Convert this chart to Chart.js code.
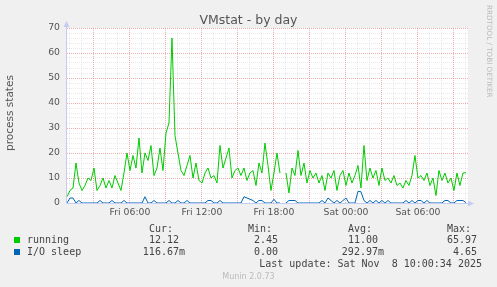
<!DOCTYPE html>
<html>
<head>
<meta charset="utf-8">
<script src="https://cdn.jsdelivr.net/npm/chart.js@4.4.1/dist/chart.umd.min.js"></script>
<style>
  html, body { margin: 0; padding: 0; background: #f0f0f0; }
  #wrap { position: relative; width: 497px; height: 287px; overflow: hidden; font-family: "DejaVu Sans", sans-serif; color: #555; }
  #graph { position: absolute; left: 0; top: 0; }
  .t { position: absolute; white-space: pre; }
  .mono { font-family: "DejaVu Sans Mono", monospace; font-size: 10px; line-height: 12px; color: #444; }
  .box { position: absolute; width: 6px; height: 6px; }
  #title { left: 0; width: 497px; top: 12px; text-align: center; font-size: 12.5px; line-height: 15px; color: #555; }
  #ytitle { left: -51px; top: 107px; width: 120px; text-align: center; font-size: 10.5px; line-height: 12px; color: #555; transform: rotate(-90deg); }
  #rrd { left: 485px; top: 5px; writing-mode: vertical-rl; font-size: 7.2px; line-height: 8px; color: #bbb; }
  #munin { left: 0; width: 497px; top: 272px; text-align: center; font-size: 8px; line-height: 10px; color: #bbb; }
</style>
</head>
<body>
<div id="wrap">
  <canvas id="graph" width="497" height="287"></canvas>
  <div class="t" id="title">VMstat - by day</div>
  <div class="t" id="ytitle">process states</div>
  <div class="t" id="rrd">RRDTOOL / TOBI OETIKER</div>

  <div class="t mono" style="right:324px;top:223px">Cur:</div>
  <div class="t mono" style="right:225px;top:223px">Min:</div>
  <div class="t mono" style="right:125px;top:223px">Avg:</div>
  <div class="t mono" style="right:26px;top:223px">Max:</div>

  <div class="box" style="left:14px;top:237px;background:#00cc00"></div>
  <div class="t mono" style="left:27px;top:234px">running</div>
  <div class="t mono" style="right:312px;top:234px">12.12 </div>
  <div class="t mono" style="right:213px;top:234px">2.45 </div>
  <div class="t mono" style="right:113px;top:234px">11.00 </div>
  <div class="t mono" style="right:14px;top:234px">65.97 </div>

  <div class="box" style="left:14px;top:249px;background:#0066b3"></div>
  <div class="t mono" style="left:27px;top:246px">I/O sleep</div>
  <div class="t mono" style="right:312px;top:246px">116.67m</div>
  <div class="t mono" style="right:213px;top:246px">0.00 </div>
  <div class="t mono" style="right:113px;top:246px">292.97m</div>
  <div class="t mono" style="right:14px;top:246px">4.65 </div>

  <div class="t mono" style="right:15px;top:258px">Last update: Sat Nov  8 10:00:34 2025</div>
  <div class="t" id="munin">Munin 2.0.73</div>
</div>
<script>
// time axis in hours since Fri 00:00, one sample every 15 min
const startHour = 0.75;
const stepHours = 0.25;
const endHour = 34.17;

const running = [
  2.5, 5, 6, 16, 8, 5, 7, 10, 9, 14,
  5, 7, 10, 6, 9, 6, 11, 8, 5, 12,
  20, 13, 19, 14, 26, 12, 20, 17, 23, 11,
  14, 22, 13, 28, 32, 65.97, 27, 20, 13, 11,
  15, 19, 10, 16, 9, 8, 12, 14, 10, 11,
  8, 23, 14, 18, 22, 10, 13, 14, 11, 14,
  9, 12, 13, 7, 16, 12, 24, 15, 5, 12,
  20, 12, null, 12, 4, 14, 11, 21, 11, 16,
  8, 13, 10, 12, 8, 11, 5, 12, 10, 13,
  5, 11, 13, 7, 12, 8, 11, 15, 6, 23,
  9, 14, 10, 13, 7, 14, 9, 10, 8, 11,
  7, 8, 6, 9, 7, 11, 19, 10, 11, 9,
  12, 7, 10, 3, 13, 9, 12, 8, 10, 5,
  12, 7, 12, 12.12
];

const ioSleep = [
  0, 2, 2, 0, 1, 0, 0, 0, 0, 0,
  0, 1, 0, 0, 0, 1, 0, 0, 0, 1,
  0, 0, 0, 0, 0, 0, 2.5, 0, 0, 1,
  0, 0, 0, 0, 1, 0, 0, 1, 0, 0,
  1, 0, 0, 0, 0, 0, 0, 1, 1, 0,
  0, 1, 0, 0, 0, 0, 0, 0, 0, 2.5,
  2, 1.5, 1, 0, 1, 1, 0, 0, 0, 1.5,
  0, 0, null, 0, 1, 1, 1, 0, 0, 0,
  0, 0, 0, 0, 0, 1, 0, 2, 1, 0,
  1, 0, 1, 2, 0, 0, 0, 4.65, 4.5, 1,
  0, 1, 0, 1, 0, 1, 0, 1, 0, 0,
  0, 0, 0, 1, 0, 1, 0, 1, 1, 0,
  1, 0, 0, 0, 0, 0, 1, 1, 0, 0,
  1, 1, 1, 0.12
];

const tickHours = [6, 12, 18, 24, 30];
const tickLabels = ['Fri 06:00', 'Fri 12:00', 'Fri 18:00', 'Sat 00:00', 'Sat 06:00'];

const MAJOR = 'rgba(230,110,110,0.55)';
const MINOR = 'rgba(170,170,170,0.25)';
const AXIS = '#c4ccf2';

function pontos(arr) {
  return arr.map((v, i) => ({ x: startHour + i * stepHours, y: v }));
}

const fundoPlugin = {
  id: 'fundo',
  beforeDraw(chart) {
    const { ctx, chartArea: a } = chart;
    ctx.save();
    ctx.fillStyle = '#ffffff';
    ctx.fillRect(a.left, a.top, a.right - a.left, a.bottom - a.top);
    ctx.restore();
  }
};

// axis lines with the little arrows, under the data
const eixosPlugin = {
  id: 'eixos',
  beforeDatasetsDraw(chart) {
    const { ctx, chartArea: a } = chart;
    const x0 = a.left - 0.5, y0 = a.bottom + 0.5;
    ctx.save();
    ctx.strokeStyle = AXIS;
    ctx.fillStyle = AXIS;
    ctx.lineWidth = 1;
    ctx.beginPath();
    ctx.moveTo(x0, y0);
    ctx.lineTo(x0, a.top - 4);
    ctx.moveTo(x0, y0);
    ctx.lineTo(a.right + 3, y0);
    ctx.stroke();
    ctx.beginPath();
    ctx.moveTo(x0, a.top - 7);
    ctx.lineTo(x0 - 3, a.top - 1);
    ctx.lineTo(x0 + 3, a.top - 1);
    ctx.closePath();
    ctx.fill();
    ctx.beginPath();
    ctx.moveTo(a.right + 6, y0);
    ctx.lineTo(a.right, y0 - 3);
    ctx.lineTo(a.right, y0 + 3);
    ctx.closePath();
    ctx.fill();
    ctx.restore();
  }
};

const fonteEixo = { family: 'DejaVu Sans', size: 9.3 };

new Chart(document.getElementById('graph'), {
  type: 'line',
  data: {
    datasets: [
      { label: 'running', data: pontos(running), borderColor: '#00cc00', borderWidth: 1, pointRadius: 0, tension: 0, spanGaps: false },
      { label: 'I/O sleep', data: pontos(ioSleep), borderColor: '#0066b3', borderWidth: 1, pointRadius: 0, tension: 0, spanGaps: false }
    ]
  },
  options: {
    responsive: false,
    animation: false,
    events: [],
    layout: { padding: { left: 0, top: 28, right: 29, bottom: 64 } },
    plugins: { legend: { display: false }, tooltip: { enabled: false }, title: { display: false } },
    scales: {
      x: {
        type: 'linear',
        min: startHour,
        max: endHour,
        afterBuildTicks: s => {
          s.ticks = [];
          for (let h = 1; h <= 34; h++) s.ticks.push({ value: h });
        },
        afterFit: s => { s.height = 20; },
        ticks: {
          autoSkip: false, maxRotation: 0, padding: 4, color: '#555', font: fonteEixo,
          callback: v => { const k = tickHours.indexOf(v); return k >= 0 ? tickLabels[k] : ''; }
        },
        grid: { drawTicks: false, lineWidth: 1, color: c => (c.tick && c.tick.value % 3 === 0) ? MAJOR : MINOR },
        border: { display: false, dash: [1, 1] }
      },
      y: {
        min: 0,
        max: 70,
        afterBuildTicks: s => {
          s.ticks = [];
          for (let v = 0; v <= 70; v += 2) s.ticks.push({ value: v });
        },
        afterFit: s => { s.width = 67; },
        ticks: {
          autoSkip: false, padding: 7, color: '#555', font: fonteEixo,
          callback: v => v % 10 === 0 ? String(v) : ''
        },
        grid: {
          drawTicks: false, lineWidth: 1,
          color: c => {
            const v = c.tick ? c.tick.value : 1;
            if (v === 0) return 'rgba(0,0,0,0)';
            return v % 10 === 0 ? MAJOR : MINOR;
          }
        },
        border: { display: false, dash: [1, 1] }
      }
    }
  },
  plugins: [fundoPlugin, eixosPlugin]
});
</script>
</body>
</html>
